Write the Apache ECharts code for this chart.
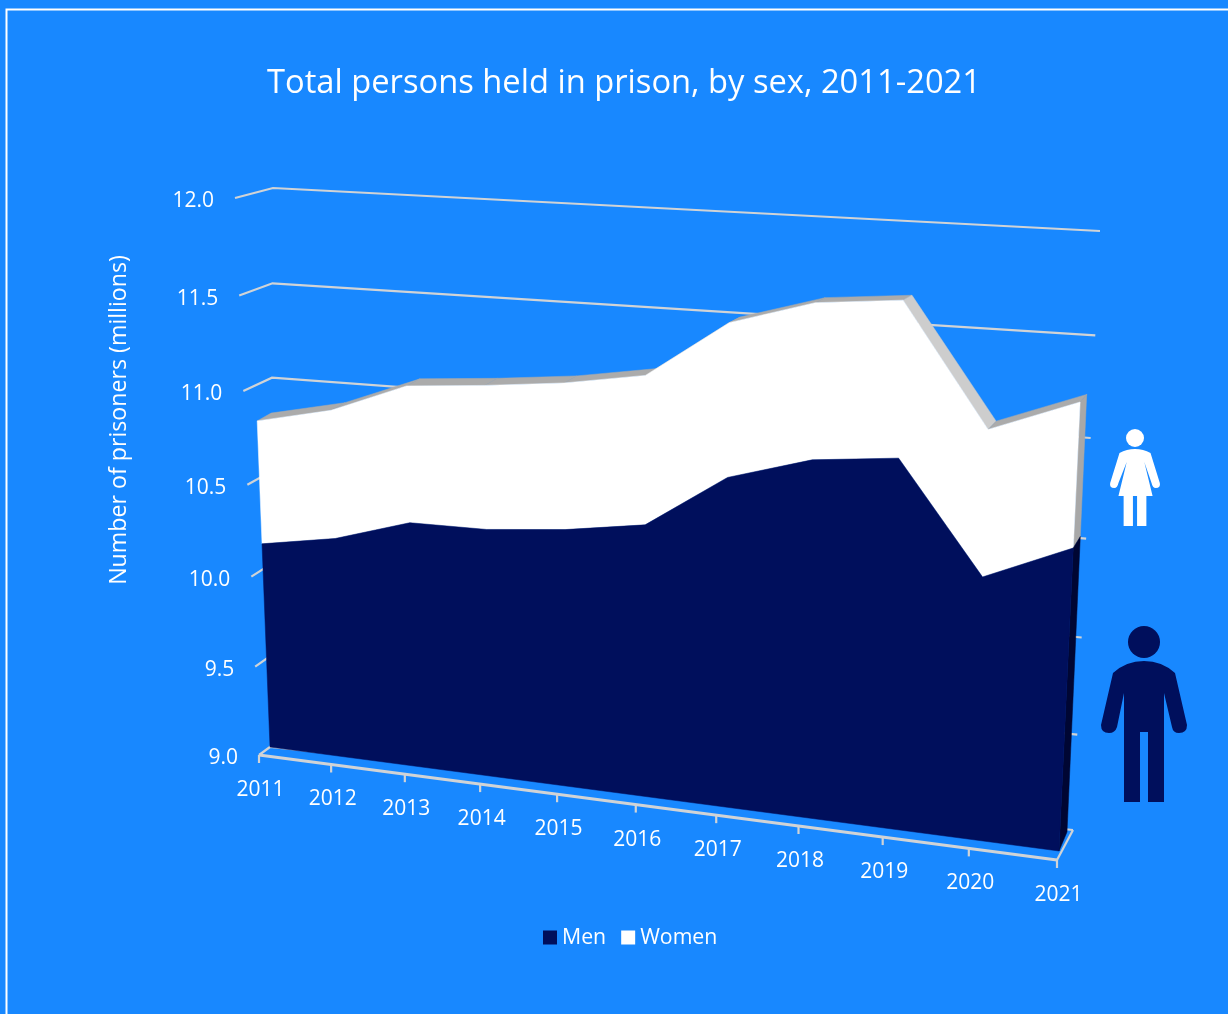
<!DOCTYPE html>
<html><head><meta charset="utf-8">
<style>html,body{margin:0;padding:0;background:#1888ff}#c{width:1228px;height:1014px}</style>
<script src="https://cdn.jsdelivr.net/npm/echarts@6/dist/echarts.min.js"></script>
</head><body><div id="c"></div>
<script>
const categories = ['2011','2012','2013','2014','2015','2016','2017','2018','2019','2020','2021'];
const men   = [10.13,10.20,10.325,10.33,10.37,10.435,10.715,10.84,10.885,10.34,10.525];
const women = [0.66,0.68,0.715,0.745,0.75,0.755,0.765,0.765,0.76,0.72,0.70];
const yTicks = [9,9.5,10,10.5,11,11.5,12];
const yMin = 9, yMax = 12;

const BG='#1888ff', NAVY='#000f5c', FONT='"Open Sans"', GRIDC='#d0d3d6';
const total = men.map((m,i)=>m+women[i]);

// Perspective of the 3-D chart: each plane is the flat plot rectangle mapped to a quad
function homography(q){ // q: [p00,p10,p01,p11] for (u,s)
  const [a,b,c,d]=q;
  const dx1=b[0]-d[0],dx2=c[0]-d[0],sx=a[0]-b[0]-c[0]+d[0];
  const dy1=b[1]-d[1],dy2=c[1]-d[1],sy=a[1]-b[1]-c[1]+d[1];
  const den=dx1*dy2-dx2*dy1;
  const g=(sx*dy2-dx2*sy)/den,h=(dx1*sy-sx*dy1)/den;
  const A=b[0]-a[0]+g*b[0],B=c[0]-a[0]+h*c[0],D=b[1]-a[1]+g*b[1],E=c[1]-a[1]+h*c[1];
  return (u,s)=>{const w=g*u+h*s+1;return [(A*u+B*s+a[0])/w,(D*u+E*s+a[1])/w];};
}
const planeFront = homography([[259,755],[1057,860],[235,198],[1085,240]]);
const planeBackH = homography([[270,747],[1073,830],[273,188],[1100,231]]);
// the far wall foreshortens a little more towards its right end
const planeBack  = (u,s)=>{const k=-0.025*u;return planeBackH(u,s*(1+k)/(1+k*s));};
const planeArea  = homography([[270,747],[1059,851],[248,187],[1088,235]]);
const planeDepth = homography([[284,733],[1067,832],[262,184],[1094,232]]);

const GRID={left:100,top:100,width:1000,height:700};
function proj(api,plane,x,v){
  const p=api.coord([x,v]);
  return plane((p[0]-GRID.left)/GRID.width, 1-(p[1]-GRID.top)/GRID.height);
}
const poly=(points,fill,stroke)=>({type:'polygon',shape:{points},style:{fill,stroke:stroke||fill,lineWidth:0.5},silent:true});
const line=(points,w)=>({type:'polyline',shape:{points},style:{fill:null,stroke:GRIDC,lineWidth:w||2.2},silent:true});
const last=categories.length-1;

function wallItem(params,api){
  const ch=[];
  yTicks.forEach(v=>{
    ch.push(line([proj(api,planeFront,0,v),proj(api,planeBack,0,v),proj(api,planeBack,last,v)]));
  });
  // floor
  ch.push(line([proj(api,planeFront,0,yMin),proj(api,planeFront,last,yMin)],3));
  ch.push(line([proj(api,planeFront,last,yMin),proj(api,planeBack,last,yMin)]));
  categories.forEach((c,i)=>{
    const p=proj(api,planeFront,i,yMin);
    ch.push(line([p,[p[0],p[1]+8]]));
    ch.push({type:'text',silent:true,style:{text:c,x:p[0]+1.5,y:p[1]+35,fill:'#fff',font:'21px '+FONT,align:'center',verticalAlign:'middle'}});
  });
  yTicks.forEach(v=>{
    const p=proj(api,planeFront,0,v);
    ch.push({type:'text',silent:true,style:{text:v.toFixed(1),x:p[0]-21,y:p[1]+3,fill:'#fff',font:'21px '+FONT,align:'right',verticalAlign:'middle'}});
  });
  return {type:'group',children:ch};
}
function womenItem(params,api){
  const ch=[];
  const front=total.map((v,i)=>proj(api,planeArea,i,v));
  const back=total.map((v,i)=>proj(api,planeDepth,i,v));
  for(let i=0;i<last;i++){
    ch.push(poly([front[i],front[i+1],back[i+1],back[i]], total[i+1]<total[i]-0.1?'#cdcdcd':'#ababab'));
  }
  ch.push(poly([front[last],back[last],proj(api,planeDepth,last,men[last]),proj(api,planeArea,last,men[last])],'#a8a8a8'));
  const base=men.map((v,i)=>proj(api,planeArea,i,v)).reverse();
  ch.push(poly(front.concat(base),'#ffffff'));
  return {type:'group',children:ch};
}
function menItem(params,api){
  const top=men.map((v,i)=>proj(api,planeArea,i,v));
  return {type:'group',children:[
    poly([top[last],proj(api,planeDepth,last,men[last]),proj(api,planeDepth,last,yMin),proj(api,planeArea,last,yMin)],'#000633'),
    poly(top.concat([proj(api,planeArea,last,yMin),proj(api,planeArea,0,yMin)]),NAVY)
  ]};
}
function iconItem(){
  return {type:'group',children:[
    {type:'circle',silent:true,shape:{cx:1135,cy:438,r:9},style:{fill:'#fff'}},
    {type:'path',silent:true,shape:{pathData:'M1135 449 Q1143 449 1150 453 L1159 483 Q1160 488 1155 488 Q1152 488 1151 483 L1144 462 L1152 496 L1146 496 L1146 526 L1137 526 L1137 496 L1133 496 L1133 526 L1124 526 L1124 496 L1119 496 L1127 462 L1119 483 Q1118 488 1115 488 Q1110 488 1111 483 L1120 453 Q1127 449 1135 449 Z',x:1110,y:449,width:50,height:77,layout:'cover'},style:{fill:'#fff'}},
    {type:'circle',silent:true,shape:{cx:1144,cy:642,r:16},style:{fill:NAVY}},
    {type:'path',silent:true,shape:{pathData:'M1144 661 Q1162 661 1175 673 L1187 725 Q1187 733 1179 733 Q1173 733 1172 727 L1164 693 L1164 802 L1148 802 L1148 732 L1140 732 L1140 802 L1124 802 L1124 693 L1117 727 Q1115 733 1109 733 Q1101 733 1101 725 L1113 673 Q1126 661 1144 661 Z',x:1101,y:661,width:86,height:141,layout:'cover'},style:{fill:NAVY}}
  ]};
}
const once = fn => (params,api)=> params.dataIndex===0 ? fn(params,api) : null;

const chart=echarts.init(document.getElementById('c'),null,{renderer:'canvas'});
chart.setOption({
  animation:false,
  backgroundColor:BG,
  title:{text:'Total persons held in prison, by sex, 2011-2021',left:262,top:62,
    textStyle:{color:'#fff',fontFamily:FONT,fontWeight:'normal',fontSize:32.7}},
  legend:{data:['Men','Women'],left:538,top:922,icon:'rect',itemWidth:14,itemHeight:14,itemGap:15,
    textStyle:{color:'#fff',fontFamily:FONT,fontSize:21.3}},
  grid:Object.assign({},GRID),
  xAxis:{type:'category',data:categories,boundaryGap:false,show:false},
  yAxis:{type:'value',min:yMin,max:yMax,interval:0.5,show:false},
  graphic:[
    {type:'polyline',shape:{points:[[6.5,1014],[6.5,9.5],[1228,9.5]]},style:{fill:null,stroke:'#fff',lineWidth:2},silent:true},
    {type:'text',silent:true,x:119,y:420,rotation:Math.PI/2,style:{text:'Number of prisoners (millions)',fill:'#fff',font:'23.2px '+FONT,align:'center',verticalAlign:'middle'}}
  ],
  series:[
    {name:'Axes',type:'custom',coordinateSystem:'cartesian2d',renderItem:once(wallItem),data:categories.map((c,i)=>[i,yMin]),silent:true,z:1},
    {name:'Women',type:'custom',coordinateSystem:'cartesian2d',renderItem:once(womenItem),itemStyle:{color:'#ffffff'},data:women.map((v,i)=>[i,total[i]]),silent:true,z:2},
    {name:'Men',type:'custom',coordinateSystem:'cartesian2d',renderItem:once(menItem),itemStyle:{color:NAVY},data:men.map((v,i)=>[i,v]),silent:true,z:3},
    {name:'Icons',type:'custom',coordinateSystem:'cartesian2d',renderItem:once(iconItem),data:[[0,yMin]],silent:true,z:4}
  ]
});
</script></body></html>
